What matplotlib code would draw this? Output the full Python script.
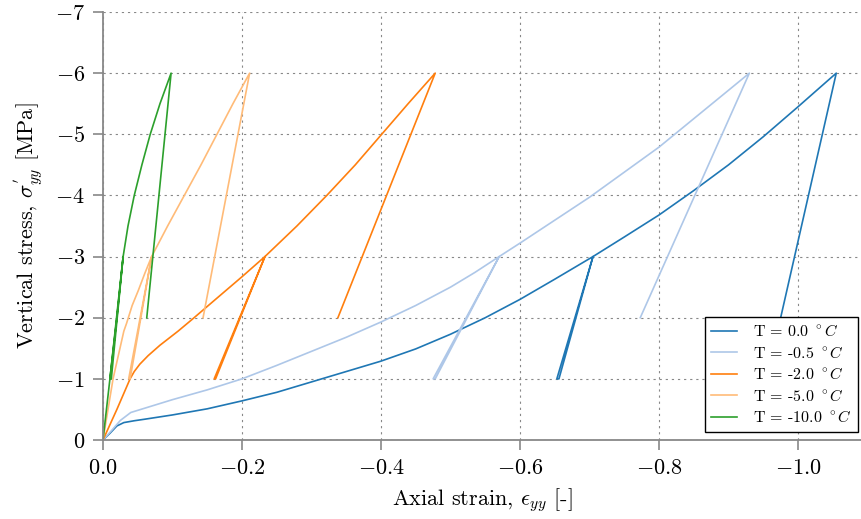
import matplotlib
matplotlib.use('Agg')
import matplotlib.pyplot as plt

plt.rcParams['font.family'] = 'serif'
plt.rcParams['font.serif'] = ['cmr10', 'DejaVu Serif']
plt.rcParams['mathtext.fontset'] = 'cm'
plt.rcParams['axes.formatter.use_mathtext'] = True

# strain / stress paths (loading, unload-reload loop, loading, unload)
temps = ['0.0', '-0.5', '-2.0', '-5.0', '-10.0']
colors = ['#1f77b4', '#aec7e8', '#ff7f0e', '#ffbb78', '#2ca02c']

eps_0 = [0, -0.01, -0.02, -0.03, -0.045, -0.06, -0.1, -0.15, -0.2, -0.25, -0.3, -0.35, -0.4,
         -0.45, -0.5, -0.55, -0.6, -0.65, -0.705, -0.653, -0.656, -0.705,
         -0.75, -0.8, -0.85, -0.9, -0.95, -1.0, -1.055, -0.975]
sig_0 = [0, -0.11, -0.23, -0.285, -0.315, -0.34, -0.41, -0.51, -0.64, -0.78, -0.95, -1.12, -1.29,
         -1.49, -1.73, -2.0, -2.3, -2.63, -3.0, -1.0, -1.0, -3.0,
         -3.32, -3.68, -4.08, -4.5, -4.96, -5.45, -6.0, -2.0]

eps_05 = [0, -0.012, -0.025, -0.04, -0.06, -0.1, -0.15, -0.2, -0.25, -0.3, -0.35, -0.4, -0.45,
          -0.5, -0.535, -0.57, -0.475, -0.478, -0.57, -0.6, -0.7, -0.8, -0.9, -0.93, -0.773]
sig_05 = [0, -0.15, -0.32, -0.45, -0.52, -0.66, -0.82, -1.0, -1.22, -1.45, -1.68, -1.93, -2.2,
          -2.5, -2.74, -3.0, -1.0, -1.0, -3.0, -3.22, -3.97, -4.79, -5.72, -6.0, -2.0]

eps_2 = [0, -0.02, -0.039, -0.045, -0.053, -0.065, -0.082, -0.108, -0.128, -0.165, -0.2, -0.233,
         -0.16, -0.162, -0.233, -0.279, -0.322, -0.363, -0.401, -0.439, -0.478, -0.338]
sig_2 = [0, -0.5, -1.0, -1.12, -1.24, -1.38, -1.55, -1.78, -1.97, -2.33, -2.67, -3.0,
         -1.0, -1.0, -3.0, -3.5, -4.0, -4.5, -5.0, -5.5, -6.0, -2.0]

eps_5 = [0, -0.0145, -0.03, -0.034, -0.042, -0.051, -0.06, -0.07, -0.037, -0.039, -0.07,
         -0.093, -0.117, -0.141, -0.164, -0.187, -0.211, -0.144]
sig_5 = [0, -1.0, -1.78, -1.91, -2.2, -2.45, -2.72, -3.0, -1.0, -1.0, -3.0,
         -3.5, -4.0, -4.5, -5.0, -5.5, -6.0, -2.0]

eps_10 = [0, -0.010, -0.02, -0.029, -0.010, -0.012, -0.029, -0.036, -0.045, -0.056, -0.068,
          -0.082, -0.098, -0.063]
sig_10 = [0, -1.0, -2.0, -3.0, -1.0, -1.0, -3.0, -3.5, -4.0, -4.5, -5.0,
          -5.5, -6.0, -2.0]

strains = [eps_0, eps_05, eps_2, eps_5, eps_10]
stresses = [sig_0, sig_05, sig_2, sig_5, sig_10]

fig = plt.figure(figsize=(8.61, 5.19), dpi=100)
ax = fig.add_axes([0.1196, 0.1522, 0.8804, 0.8247])

for eps, sig, t, c in zip(strains, stresses, temps, colors):
    ax.plot(eps, sig, color=c, lw=1.2, label='T = ' + t + r' $^\circ C$')

ax.set_xlim(0, -1.0906)
ax.set_ylim(0, -7)
ax.set_xticks([0, -0.2, -0.4, -0.6, -0.8, -1.0])
ax.set_xticklabels(['$0.0$', '$-0.2$', '$-0.4$', '$-0.6$', '$-0.8$', '$-1.0$'])
ax.set_yticks([0, -1, -2, -3, -4, -5, -6, -7])
ax.set_yticklabels(['$0$', '$-1$', '$-2$', '$-3$', '$-4$', '$-5$', '$-6$', '$-7$'])

ax.grid(True, color='#888888', linestyle=(0, (2, 3.5)), linewidth=0.8)
for s in ['top', 'right']:
    ax.spines[s].set_visible(False)
for s in ['left', 'bottom']:
    ax.spines[s].set_color('#888888')
    ax.spines[s].set_linewidth(1.3)
ax.tick_params(colors='#888888', labelcolor='black', labelsize=16, length=7, width=1.2, pad=6)

ax.set_xlabel(r'Axial strain, $\epsilon_{yy}$ [-]', fontsize=16, labelpad=6)
ax.set_ylabel(r"Vertical stress, $\sigma^{'}_{yy}$ [MPa]", fontsize=16, labelpad=7)

leg = ax.legend(loc='lower right', bbox_to_anchor=(0.996, 0.019), borderaxespad=0,
                fontsize=11.5, fancybox=False, framealpha=1, edgecolor='black',
                handlelength=1.6, handletextpad=1.0, labelspacing=0.35)
leg.get_frame().set_linewidth(1.0)

fig.savefig('out.png', dpi=100)
